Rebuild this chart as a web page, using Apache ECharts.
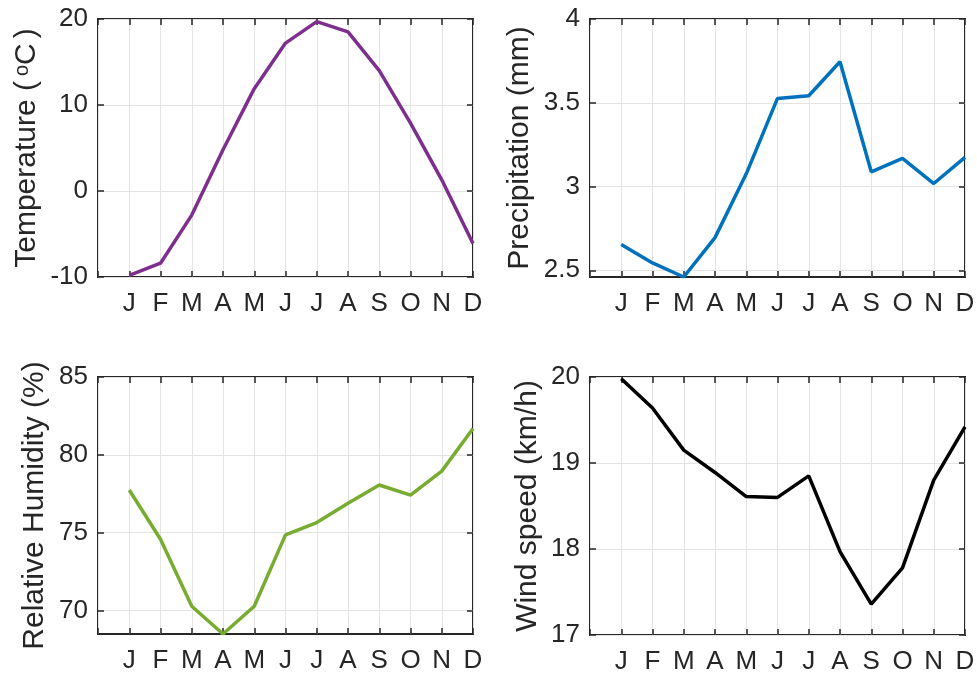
<!DOCTYPE html>
<html>
<head>
<meta charset="utf-8">
<script src="https://cdn.jsdelivr.net/npm/echarts@6/dist/echarts.min.js"></script>
<style>
  html, body { margin: 0; padding: 0; background: #fff; }
  #chart { width: 977px; height: 677px; }
</style>
</head>
<body>
<div id="chart"></div>
<script>
// monthly climate data
const months = ['J', 'F', 'M', 'A', 'M', 'J', 'J', 'A', 'S', 'O', 'N', 'D']
const temperature = [-9.8, -8.4, -2.8, 4.8, 11.9, 17.2, 19.7, 18.5, 14.0, 7.9, 1.3, -6.1]
const precipitation = [2.654, 2.544, 2.46, 2.695, 3.076, 3.526, 3.542, 3.745, 3.088, 3.168, 3.018, 3.174]
const humidity = [77.74, 74.57, 70.26, 68.48, 70.26, 74.85, 75.64, 76.88, 78.06, 77.41, 78.95, 81.69]
const windSpeed = [19.98, 19.64, 19.15, 18.89, 18.61, 18.60, 18.85, 17.97, 17.36, 17.78, 18.80, 19.42]

const tempTicks = [-10, 0, 10, 20]
const precipTicks = [2.5, 3, 3.5, 4]
const humidityTicks = [70, 75, 80, 85]
const windTicks = [17, 18, 19, 20]

const FONT = '"Liberation Sans", Arial, Helvetica, sans-serif'
const INK = '#262626'
const GRID_LINE = '#e4e4e4'

const panels = [
  { name: ['Temperature (', '{sup|o}', 'C{sp|})'].join(''), data: temperature, ticks: tempTicks,
    min: -10, max: 20, color: '#7E2F8E', left: 98, top: 19, height: 258, gap: 56 },
  { name: 'Precipitation (mm)', data: precipitation, ticks: precipTicks,
    min: Math.min(...precipitation), max: 4, color: '#0072BD', left: 590, top: 19, height: 258, gap: 55 },
  { name: 'Relative Humidity (%)', data: humidity, ticks: humidityTicks,
    min: Math.min(...humidity), max: 85, color: '#77AC30', left: 98, top: 377, height: 257, gap: 48 },
  { name: 'Wind speed (km/h)', data: windSpeed, ticks: windTicks,
    min: 17, max: 20, color: '#000000', left: 590, top: 377, height: 258, gap: 47 }
]

const tick = { show: true, inside: true, length: 6, lineStyle: { color: INK, width: 1.5 } }
const noLine = { show: false, onZero: false }

const grid = [], xAxis = [], yAxis = [], series = []

panels.forEach((p, i) => {
  grid.push({
    left: p.left, top: p.top, width: 375, height: p.height,
    show: true, borderColor: INK, borderWidth: 2, backgroundColor: '#fff',
    containLabel: false, outerBoundsMode: 'none'
  })

  // bottom axis with labels, top axis for mirrored ticks
  xAxis.push({
    type: 'value', gridIndex: i, position: 'bottom', min: 0, max: 12, interval: 1,
    axisLine: noLine, axisTick: tick,
    axisLabel: {
      margin: 14, fontSize: 26, color: INK, fontFamily: FONT,
      formatter: v => months[v - 1] || ''
    },
    splitLine: { show: true, lineStyle: { color: GRID_LINE, width: 1 } }
  })
  xAxis.push({
    type: 'value', gridIndex: i, position: 'top', min: 0, max: 12, interval: 1,
    axisLine: noLine, axisTick: tick, axisLabel: { show: false },
    splitLine: { show: false }
  })

  yAxis.push({
    type: 'value', gridIndex: i, position: 'left', min: p.min, max: p.max,
    name: p.name, nameLocation: 'middle', nameGap: p.gap,
    nameTextStyle: {
      fontSize: 30, color: INK, fontFamily: FONT,
      rich: {
        sup: { fontSize: 20, verticalAlign: 'top', color: INK, fontFamily: FONT, padding: [0, 0, 0, 5] },
        sp: { width: 5 }
      }
    },
    axisLine: noLine,
    axisTick: Object.assign({ customValues: p.ticks }, tick),
    axisLabel: { customValues: p.ticks, margin: 10, fontSize: 26, color: INK, fontFamily: FONT },
    splitLine: { show: true, lineStyle: { color: GRID_LINE, width: 1 } }
  })
  yAxis.push({
    type: 'value', gridIndex: i, position: 'right', min: p.min, max: p.max,
    axisLine: noLine,
    axisTick: Object.assign({ customValues: p.ticks }, tick),
    axisLabel: { show: false }, splitLine: { show: false }
  })

  series.push({
    type: 'line', xAxisIndex: i * 2, yAxisIndex: i * 2,
    data: p.data.map((v, k) => [k + 1, v]),
    symbol: 'none', lineStyle: { color: p.color, width: 3.5 },
    itemStyle: { color: p.color }, animation: false
  })
})

const chart = echarts.init(document.getElementById('chart'), null, { renderer: 'canvas' })
chart.setOption({ animation: false, grid, xAxis, yAxis, series })
</script>
</body>
</html>
